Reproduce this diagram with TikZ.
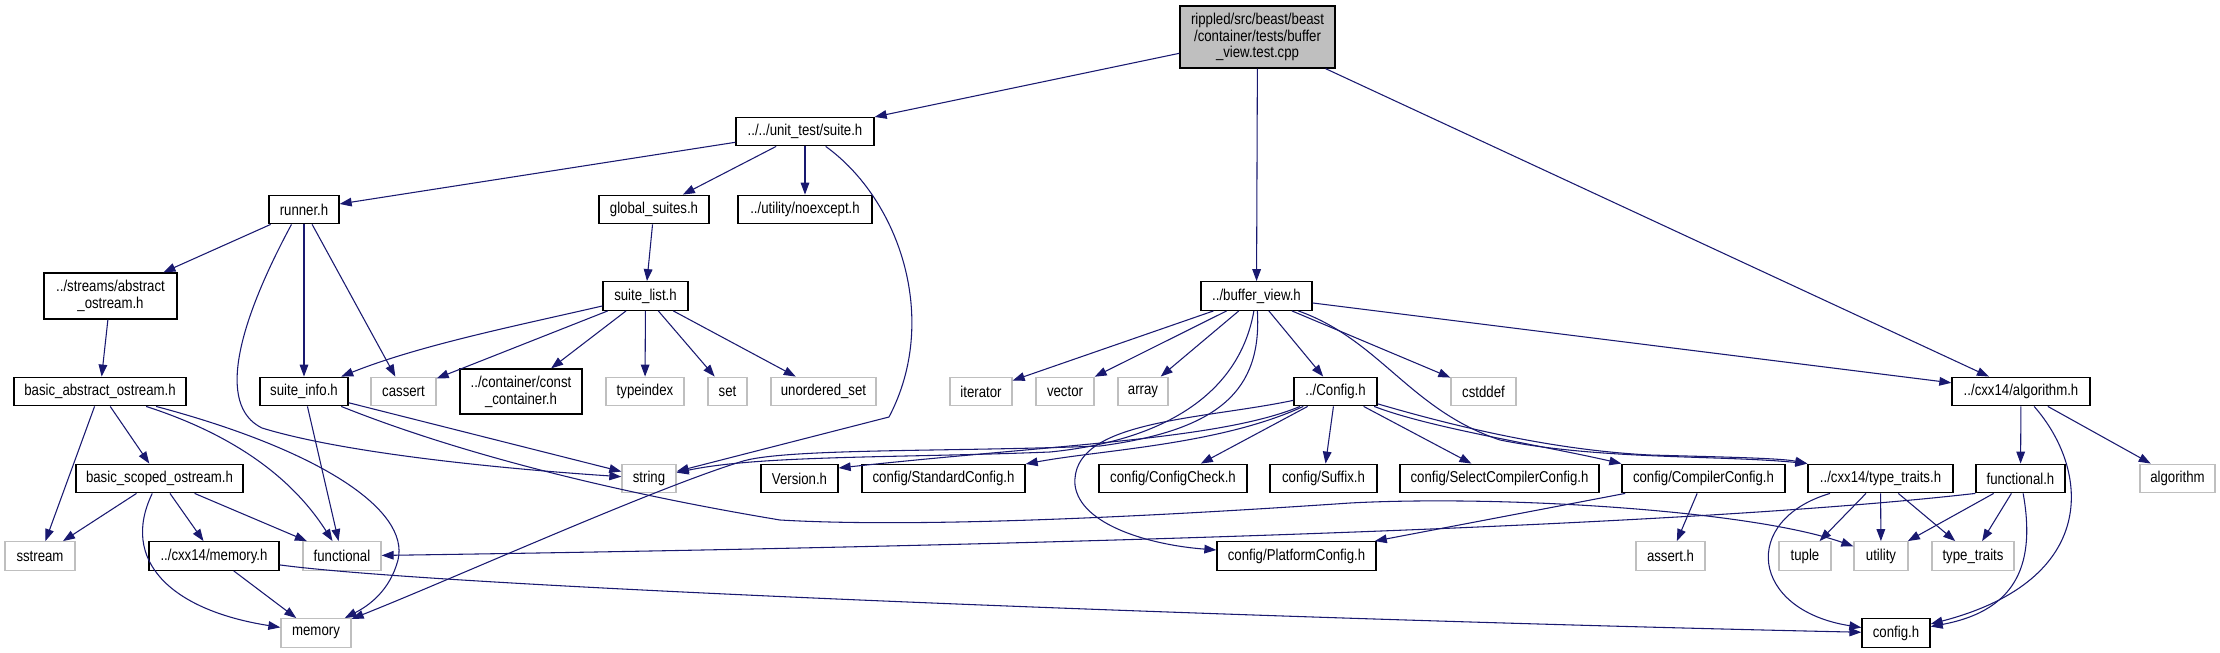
\documentclass[tikz,border=0pt]{standalone}
\usepackage{fontspec}
\setmainfont{Liberation Sans}[FakeStretch=0.84]
\usetikzlibrary{arrows.meta}
\definecolor{edgeblue}{HTML}{191970}
\definecolor{extgray}{HTML}{BFBFBF}

\begin{document}
\begin{tikzpicture}[x=0.75pt,y=-0.75pt,
  font=\fontsize{11.8}{12.6}\selectfont,
  file/.style={draw=black,line width=1pt,fill=white,inner sep=0pt,align=center,
               minimum height=28.5*0.75pt},
  sys/.style={file,draw=extgray},
  wd/.style={minimum width=#1*0.75pt},
  ht/.style={minimum height=#1*0.75pt},
  dep/.style={draw=edgeblue,line width=0.8pt,-{Triangle[length=9pt,width=6.5pt]}}]
  \useasboundingbox (0,0) rectangle (2220,653);

  % rank 0 - 3
  \node[file,fill=extgray,wd=155,ht=62] (test) at (1257.5,37) {rippled/src/beast/beast\\/container/tests/buffer\\\_view.test.cpp};
  \node[file,wd=138] (suite) at (805,131.5) {../../unit\_test/suite.h};
  \node[file,wd=70] (runner) at (304,209.5) {runner.h};
  \node[file,wd=110] (globalsuites) at (654,209.5) {global\_suites.h};
  \node[file,wd=134] (noexcept) at (805,209.5) {../utility/noexcept.h};
  \node[file,wd=133,ht=46] (abstractos) at (110.5,296) {../streams/abstract\\\_ostream.h};
  \node[file,wd=85] (suitelist) at (645.5,296) {suite\_list.h};
  \node[file,wd=111] (bufferview) at (1256.5,296) {../buffer\_view.h};

  % rank 4
  \node[file,wd=172] (basicabs) at (100,391.5) {basic\_abstract\_ostream.h};
  \node[file,wd=88] (suiteinfo) at (304,391.5) {suite\_info.h};
  \node[sys,wd=65] (cassert) at (403.5,391.5) {cassert};
  \node[file,wd=122,ht=45] (constcont) at (521,391.5) {../container/const\\\_container.h};
  \node[sys,wd=78] (typeindex) at (645,391.5) {typeindex};
  \node[sys,wd=39] (set) at (727.5,391.5) {set};
  \node[sys,wd=105] (unorderedset) at (823.5,391.5) {unordered\_set};
  \node[sys,wd=62] (iterator) at (981,391.5) {iterator};
  \node[sys,wd=58] (vector) at (1065,391.5) {vector};
  \node[sys,wd=50] (array) at (1143,391.5) {array};
  \node[file,wd=83] (config) at (1335.5,391.5) {../Config.h};
  \node[sys,wd=65] (cstddef) at (1483.5,391.5) {cstddef};
  \node[file,wd=138] (algoh) at (2021,391.5) {../cxx14/algorithm.h};

  % rank 5
  \node[sys,wd=54] (string) at (649,478.5) {string};
  \node[file,wd=167] (basicscoped) at (159.5,478.5) {basic\_scoped\_ostream.h};
  \node[file,wd=77] (version) at (799.5,478.5) {Version.h};
  \node[file,wd=163] (stdconfig) at (943.5,478.5) {config/StandardConfig.h};
  \node[file,wd=148] (configcheck) at (1173,478.5) {config/ConfigCheck.h};
  \node[file,wd=107] (suffix) at (1323.5,478.5) {config/Suffix.h};
  \node[file,wd=199] (selectcc) at (1499.5,478.5) {config/SelectCompilerConfig.h};
  \node[file,wd=163] (compilercfg) at (1703.5,478.5) {config/CompilerConfig.h};
  \node[file,wd=145] (typetraitsh) at (1880.5,478.5) {../cxx14/type\_traits.h};
  \node[file,wd=89] (functionalh) at (2020.5,478.5) {functional.h};
  \node[sys,wd=75] (algorithm) at (2177.5,478.5) {algorithm};

  % rank 6 - 7
  \node[sys,wd=70] (sstream) at (40,556) {sstream};
  \node[file,wd=130] (cxxmemory) at (214,556) {../cxx14/memory.h};
  \node[sys,wd=78] (functional) at (342,556) {functional};
  \node[file,wd=159] (platformcfg) at (1296.5,556) {config/PlatformConfig.h};
  \node[sys,wd=69] (asserth) at (1670.5,556) {assert.h};
  \node[sys,wd=52] (tuple) at (1805,556) {tuple};
  \node[sys,wd=54] (utility) at (1881,556) {utility};
  \node[sys,wd=82] (typetraits) at (1973,556) {type\_traits};
  \node[sys,wd=70] (memory) at (316,633) {memory};
  \node[file,wd=68] (configh) at (1896,633) {config.h};

  % straight includes
  \foreach \a/\b in {test/suite,test/bufferview,test/algoh,suite/runner,suite/globalsuites,
      suite/noexcept,runner/abstractos,runner/suiteinfo,runner/cassert,globalsuites/suitelist,
      abstractos/basicabs,suitelist/cassert,suitelist/constcont,suitelist/typeindex,suitelist/set,
      suitelist/unorderedset,basicabs/sstream,basicabs/basicscoped,suiteinfo/string,
      suiteinfo/functional,basicscoped/sstream,basicscoped/cxxmemory,basicscoped/functional,
      cxxmemory/memory,bufferview/iterator,bufferview/vector,bufferview/array,bufferview/config,
      bufferview/cstddef,bufferview/algoh,config/configcheck,config/suffix,config/selectcc,
      compilercfg/asserth,compilercfg/platformcfg,typetraitsh/tuple,typetraitsh/utility,
      typetraitsh/typetraits,functionalh/utility,functionalh/typetraits,algoh/functionalh,
      algoh/algorithm}
    \draw[dep] (\a) -- (\b);

  % curved includes
  \draw[dep] (suite) .. controls (900,200) and (940,320) .. (889,417) -- (string);
  \draw[dep] (runner.230) .. controls (240,320) and (215,405) .. (262,428)
             .. controls (350,455) and (520,470) .. (string);
  \draw[dep] (suitelist) .. controls (520,325) and (420,345) .. (suiteinfo);
  \draw[dep] (basicabs) .. controls (250,440) and (300,490) .. (functional);
  \draw[dep] (basicabs) .. controls (320,450) and (410,510) .. (398,560)
             .. controls (390,590) and (370,605) .. (memory);
  \draw[dep] (suiteinfo) .. controls (450,450) and (600,490) .. (780,520)
             .. controls (900,527) and (1100,520) .. (1350,503)
             .. controls (1500,495) and (1750,510) .. (utility);
  \draw[dep] (basicscoped) .. controls (120,560) and (170,610) .. (memory);
  \draw[dep] (cxxmemory) .. controls (450,588) and (1300,620) .. (configh);
  \draw[dep] (bufferview) .. controls (1240,390) and (1170,440) .. (1050,452)
             .. controls (900,458) and (760,455) .. (string);
  \draw[dep] (bufferview) .. controls (1262,390) and (1220,430) .. (1100,446)
             .. controls (950,452) and (780,448) .. (740,462)
             .. controls (650,490) and (450,580) .. (memory);
  \draw[dep] (bufferview) .. controls (1380,340) and (1410,410) .. (1500,440)
             .. controls (1600,460) and (1720,455) .. (typetraitsh.north west);
  \draw[dep] (config) .. controls (1220,440) and (1050,445) .. (version.15);
  \draw[dep] (config) .. controls (1220,445) and (1100,450) .. (stdconfig.10);
  \draw[dep] (config) .. controls (1430,428) and (1540,445) .. (compilercfg.north west);
  \draw[dep] (config) .. controls (1450,425) and (1550,450) .. (1650,455)
             .. controls (1720,457) and (1780,458) .. (typetraitsh.north west);
  \draw[dep] (config) .. controls (1200,420) and (1070,420) .. (1075,485)
             .. controls (1080,525) and (1150,545) .. (platformcfg);
  \draw[dep] (functionalh.south west) .. controls (1700,525) and (1100,545) .. (functional);
  \draw[dep] (functionalh) .. controls (2035,560) and (2020,610) .. (configh);
  \draw[dep] (algoh) .. controls (2090,470) and (2100,580) .. (configh);
  \draw[dep] (typetraitsh) .. controls (1740,520) and (1750,610) .. (configh);
\end{tikzpicture}
\end{document}
